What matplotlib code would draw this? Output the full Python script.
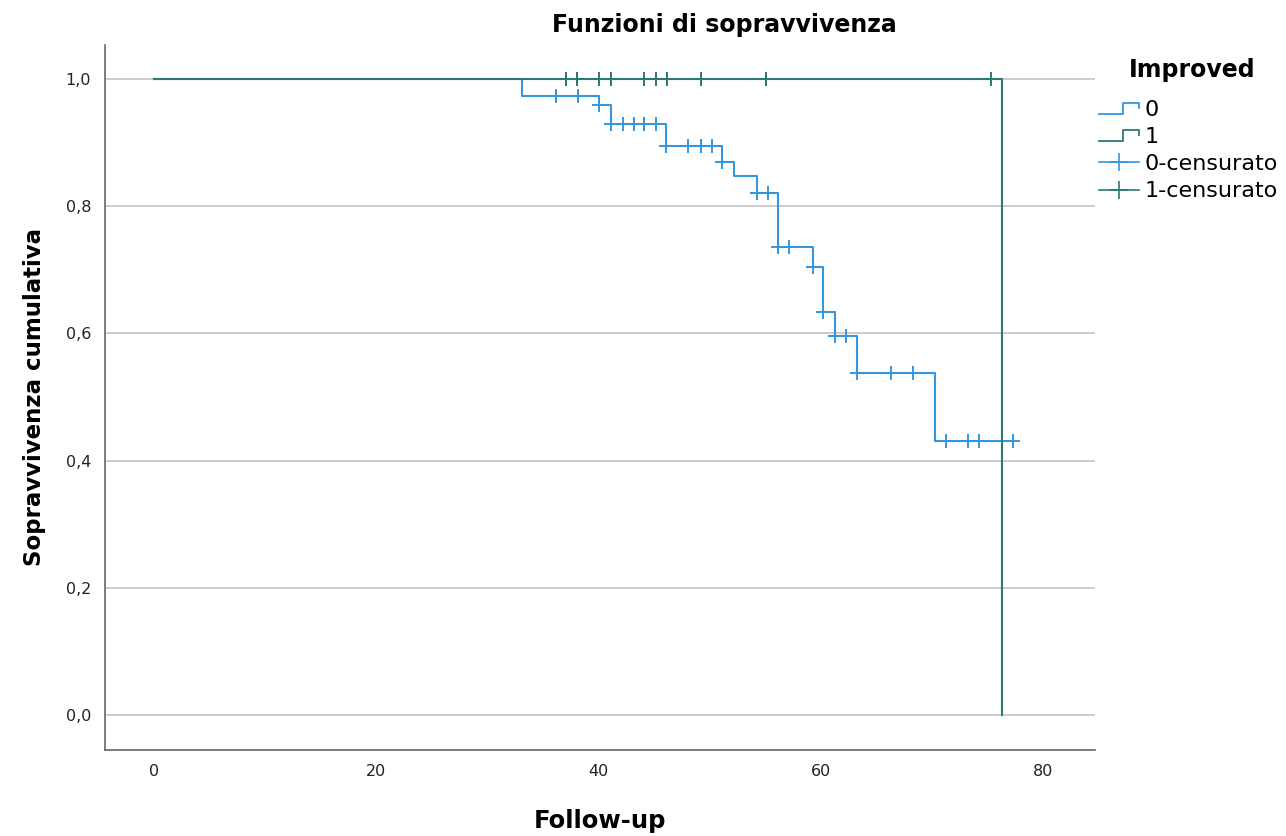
import numpy as np
import matplotlib
matplotlib.use("Agg")
import matplotlib.pyplot as plt
from matplotlib.lines import Line2D
from matplotlib.legend_handler import HandlerBase
from matplotlib.ticker import FuncFormatter

# Improved = 0 : event times and survival after each event
t0_events = [33.1, 40.1, 41.1, 46.1, 51.1, 52.2, 54.3, 56.2, 59.3, 60.2, 61.3, 63.3, 70.3]
s0_events = [0.974, 0.959, 0.929, 0.894, 0.870, 0.847, 0.821, 0.736, 0.704, 0.633, 0.596, 0.538, 0.431]
t0_end = 77.3
t0_censored = [36.2, 38.2, 38.2, 40.1, 41.1, 42.2, 43.2, 44.1, 44.1, 45.2, 46.1, 48.1, 49.2, 49.2,
               50.2, 51.1, 54.3, 55.3, 56.2, 57.2, 59.3, 60.2, 61.3, 61.3, 62.3, 63.3, 66.3,
               68.3, 71.3, 73.3, 74.3, 77.3]

# Improved = 1
t1_events = [76.3]
s1_events = [0.0]
t1_end = 76.3
t1_censored = [37.1, 38.1, 38.1, 40.1, 41.1, 44.1, 45.2, 46.2, 49.2, 55.1, 75.3]

c0 = "#3497de"
c1 = "#2f7774"


def step_curve(t_ev, s_ev, t_end):
    xs = np.concatenate([[0], t_ev, [t_end]])
    ys = np.concatenate([[1.0], s_ev, [s_ev[-1]]])
    return xs, ys


def surv_at(t_ev, s_ev, times):
    idx = np.searchsorted(t_ev, times, side="right")
    levels = np.concatenate([[1.0], s_ev])
    return levels[idx]


class HandlerStep(HandlerBase):
    def create_artists(self, legend, orig_handle, xdescent, ydescent,
                       width, height, fontsize, trans):
        x0 = -xdescent
        y0 = -ydescent
        xs = [x0, x0 + 0.6 * width, x0 + 0.6 * width, x0 + width, x0 + width]
        ys = [y0 + 0.15 * height, y0 + 0.15 * height, y0 + 0.85 * height,
              y0 + 0.85 * height, y0 + 0.5 * height]
        ln = Line2D(xs, ys, color=orig_handle.get_color(), lw=1.3, transform=trans)
        return [ln]


fig = plt.figure(figsize=(12.86, 8.36), dpi=100)
ax = fig.add_axes([0.0817, 0.1029, 0.7698, 0.8433])

ax.set_xlim(-4.4, 84.7)
ax.set_ylim(-0.055, 1.0535)
ax.set_yticks([0.0, 0.2, 0.4, 0.6, 0.8, 1.0])
ax.set_xticks([0, 20, 40, 60, 80])
ax.yaxis.set_major_formatter(FuncFormatter(lambda v, p: f"{v:.1f}".replace(".", ",")))
ax.grid(axis="y", color="#c8c8c8", lw=1.3)
ax.set_axisbelow(True)
ax.tick_params(length=0, labelsize=11.5, pad=10, colors="#222222")
for side in ["top", "right"]:
    ax.spines[side].set_visible(False)
for side in ["left", "bottom"]:
    ax.spines[side].set_color("#666666")
    ax.spines[side].set_linewidth(1.2)

x0, y0 = step_curve(t0_events, s0_events, t0_end)
ax.step(x0, y0, where="post", color=c0, lw=1.5)
ax.plot(t0_censored, surv_at(t0_events, s0_events, t0_censored), ls="none",
        marker="+", ms=10, mew=1.4, color=c0)

x1, y1 = step_curve(t1_events, s1_events, t1_end)
ax.step(x1, y1, where="post", color=c1, lw=1.5)
ax.plot(t1_censored, surv_at(t1_events, s1_events, t1_censored), ls="none",
        marker="+", ms=10, mew=1.4, color=c1)

ax.set_xlabel("Follow-up", fontsize=17.5, fontweight="bold", labelpad=22)
ax.set_ylabel("Sopravvivenza cumulativa", fontsize=16.5, fontweight="bold", labelpad=14)
fig.text(0.563, 0.970, "Funzioni di sopravvivenza", ha="center", va="center",
         fontsize=17, fontweight="bold")
fig.text(1192 / 1286, 1 - 70 / 836, "Improved", ha="center", va="center",
         fontsize=17, fontweight="bold")

handles = [Line2D([], [], color=c0), Line2D([], [], color=c1),
           Line2D([], [], color=c0, marker="+", ms=13, mew=1.2, lw=1.2),
           Line2D([], [], color=c1, marker="+", ms=13, mew=1.2, lw=1.2)]
labels = ["0", "1", "0-censurato", "1-censurato"]
leg = fig.legend(handles, labels, loc="upper left",
                 bbox_to_anchor=(1099 / 1286, 1 - 100 / 836),
                 frameon=False, fontsize=16,
                 handlelength=1.8, handletextpad=0.25, labelspacing=0.32,
                 borderaxespad=0, borderpad=0,
                 handler_map={handles[0]: HandlerStep(), handles[1]: HandlerStep()})

fig.savefig("out.png", dpi=100)
